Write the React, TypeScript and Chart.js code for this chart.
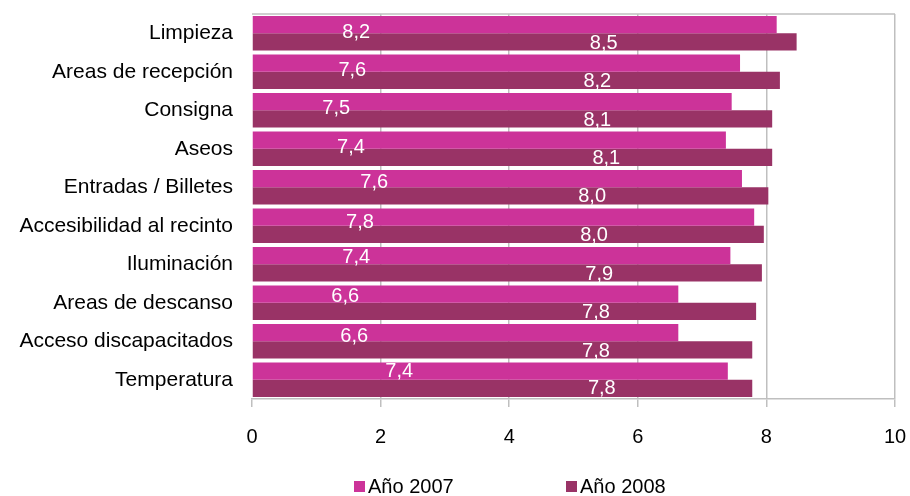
import React, { useEffect, useRef } from "react";
import { Chart, registerables } from "chart.js";

Chart.register(...registerables);

const categories = [
  "Limpieza",
  "Areas de recepción",
  "Consigna",
  "Aseos",
  "Entradas / Billetes",
  "Accesibilidad al recinto",
  "Iluminación",
  "Areas de descanso",
  "Acceso discapacitados",
  "Temperatura",
];
const seriesNames = ["Año 2007", "Año 2008"];
const values2007 = [8.16, 7.59, 7.46, 7.37, 7.62, 7.81, 7.44, 6.63, 6.63, 7.4];
const values2008 = [8.47, 8.21, 8.09, 8.09, 8.03, 7.96, 7.93, 7.84, 7.78, 7.78];
const xTicks = [0, 2, 4, 6, 8, 10];

const colors = ["#CC3399", "#993366"];
const FONT = "'Liberation Sans', Arial, sans-serif";

// label anchors (value units) and vertical nudges (px) for the data labels
const labelLayout = {
  x: [
    [1.62, 1.56, 1.31, 1.54, 1.9, 1.68, 1.62, 1.45, 1.59, 2.29],
    [5.47, 5.37, 5.37, 5.51, 5.29, 5.32, 5.4, 5.35, 5.35, 5.44],
  ],
  dy: [
    [-1, -1, -2, -1, -5, -3, -7, -6, -5, -8],
    [10, 10, 10, 10, 9, 10, 10, 10, 10, 9],
  ],
};

const fmt = (v: number) => v.toFixed(1).replace(".", ",");

const labelsPlugin = {
  id: "valueLabels",
  afterDatasetsDraw(chart: any) {
    const { ctx, scales } = chart;
    ctx.save();
    ctx.font = `20px ${FONT}`;
    ctx.fillStyle = "#FFFFFF";
    ctx.textAlign = "center";
    ctx.textBaseline = "middle";
    chart.data.datasets.forEach((ds: any, i: number) => {
      ds.data.forEach((v: number, j: number) => {
        const x = scales.x.getPixelForValue(labelLayout.x[i][j]);
        const y = scales.y.getPixelForValue(j) + labelLayout.dy[i][j];
        ctx.fillText(fmt(v), x, y);
      });
    });
    ctx.restore();
  },
};

const framePlugin = {
  id: "frame",
  afterDraw(chart: any) {
    const { ctx, chartArea } = chart;
    ctx.save();
    ctx.strokeStyle = "#BFBFBF";
    ctx.lineWidth = 1.5;
    ctx.beginPath();
    ctx.moveTo(chartArea.left, chartArea.top);
    ctx.lineTo(chartArea.right, chartArea.top);
    ctx.stroke();
    ctx.restore();
  },
};

const legendPlugin = {
  id: "customLegend",
  afterDraw(chart: any) {
    const { ctx } = chart;
    ctx.save();
    ctx.font = `20px ${FONT}`;
    ctx.textBaseline = "middle";
    ctx.textAlign = "left";
    const y = 486;
    const starts = [354, 566];
    chart.data.datasets.forEach((ds: any, i: number) => {
      const x = starts[i];
      ctx.fillStyle = ds.backgroundColor;
      ctx.fillRect(x, y - 5, 11, 11);
      ctx.fillStyle = "#000000";
      ctx.fillText(ds.label, x + 14, y + 1);
    });
    ctx.restore();
  },
};

export default function App() {
  const ref = useRef<HTMLCanvasElement | null>(null);
  useEffect(() => {
    document.body.style.margin = "0";
    const canvas = ref.current;
    if (!canvas) return;
    const chart = new Chart(canvas, {
      type: "bar",
      data: {
        labels: categories,
        datasets: [
          {
            label: seriesNames[0],
            data: values2007,
            backgroundColor: colors[0],
            categoryPercentage: 0.89,
            barPercentage: 1,
          },
          {
            label: seriesNames[1],
            data: values2008,
            backgroundColor: colors[1],
            categoryPercentage: 0.89,
            barPercentage: 1,
          },
        ],
      },
      options: {
        indexAxis: "y",
        responsive: false,
        animation: false,
        layout: { padding: { top: 14, right: 15, bottom: 0, left: 0 } },
        plugins: {
          legend: { display: false },
          tooltip: { enabled: false },
        },
        scales: {
          x: {
            min: 0,
            max: 10,
            afterBuildTicks: (scale: any) => {
              scale.ticks = xTicks.map((v) => ({ value: v }));
            },
            afterFit: (scale: any) => {
              scale.height = 97;
              scale.paddingLeft = 0;
              scale.paddingRight = 0;
            },
            ticks: {
              color: "#000000",
              font: { family: FONT, size: 20 },
              padding: 18,
            },
            grid: {
              color: (c: any) => (c.index === 0 ? "rgba(0,0,0,0)" : "#BFBFBF"),
              tickColor: "#BFBFBF",
              tickLength: 8,
              lineWidth: 1.5,
            },
            border: { display: true, color: "#BFBFBF", width: 1.5 },
          },
          y: {
            afterFit: (scale: any) => {
              scale.width = 252;
              scale.paddingTop = 0;
              scale.paddingBottom = 0;
            },
            ticks: {
              color: "#000000",
              font: { family: FONT, size: 21 },
              padding: 19,
            },
            grid: { display: false, drawTicks: false },
            border: { display: false },
          },
        },
      },
      plugins: [labelsPlugin, framePlugin, legendPlugin],
    });
    return () => chart.destroy();
  }, []);
  return (
    <div style={{ width: 910, height: 496 }}>
      <canvas ref={ref} width={910} height={496} />
    </div>
  );
}
